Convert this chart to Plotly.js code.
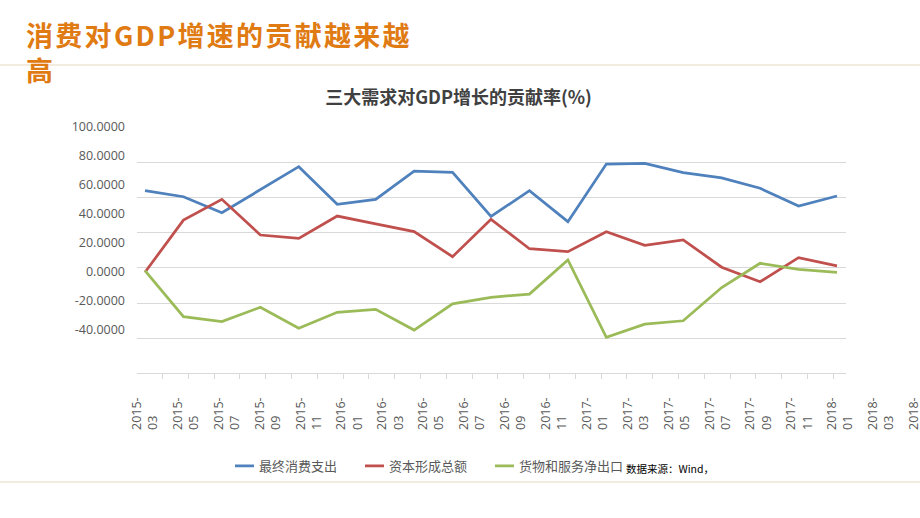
<!DOCTYPE html>
<html><head><meta charset="utf-8">
<script src="https://cdn.plot.ly/plotly-3.0.1.min.js"></script>
<style>
html,body{margin:0;padding:0;overflow:hidden;background:#fff;}
#chart{width:960px;height:518px;}
.annotation[data-index="0"] .annotation-text{letter-spacing:2.3px;}
.legendlines path{stroke-dasharray:0 11 20 100 !important;}
</style></head><body><div id="chart"></div>
<script>
const seriesNames = ['最终消费支出', '资本形成总额', '货物和服务净出口'];
const consumption = [64.0, 60.5, 51.4, 64.5, 77.6, 56.2, 59.0, 75.0, 74.4, 49.3, 63.9, 46.3, 79.1, 79.5, 74.2, 71.2, 65.3, 55.2, 60.9];
const capitalFormation = [17.5, 47.2, 59.0, 38.7, 36.8, 49.5, 45.0, 40.6, 26.4, 47.6, 30.9, 29.2, 40.6, 32.8, 35.9, 20.4, 12.1, 25.8, 21.1];
const netExports = [18.5, -7.8, -10.6, -2.4, -14.4, -5.3, -3.6, -15.4, -0.5, 3.2, 5.1, 24.5, -19.5, -12.0, -10.1, 8.8, 22.6, 19.2, 17.5];
const seriesColors = ['#4F81BD', '#C0504D', '#9BBB59'];
const xTickLabels = ['2015-03','2015-05','2015-07','2015-09','2015-11','2016-01','2016-03','2016-05','2016-07','2016-09','2016-11','2017-01','2017-03','2017-05','2017-07','2017-09','2017-11','2018-01','2018-03','2018-05'];
const yTickVals = [100, 80, 60, 40, 20, 0, -20, -40];
const yTickLabels = ['100.0000','80.0000','60.0000','40.0000','20.0000','0.0000','-20.0000','-40.0000'];

const W = 960, H = 518;
const px = v => v / W;
const py = v => 1 - v / H;
const cjk = '"Noto Sans CJK SC", "Noto Sans", sans-serif';
const tickFont = {family: '"Open Sans", "Noto Sans", sans-serif', size: 12.5, color: '#595959'};

const data = [consumption, capitalFormation, netExports].map((vals, i) => ({
  type: 'scatter', mode: 'lines', name: seriesNames[i], y: vals,
  xaxis: 'x', yaxis: 'y',
  line: {color: seriesColors[i], width: 2.75},
  legendwidth: i === 2 ? 110 : undefined,
  hoverinfo: 'skip'
}));
// carriers for the label-only axes (no visible marks)
const xLabelPos = xTickLabels.map((s, k) => k);
data.push({type: 'scatter', mode: 'markers', x: yTickVals.map(() => null), y: yTickVals,
           xaxis: 'x', yaxis: 'y2', marker: {opacity: 0}, showlegend: false, hoverinfo: 'skip'});
data.push({type: 'scatter', mode: 'markers', x: xLabelPos, y: xLabelPos.map(() => null),
           xaxis: 'x2', yaxis: 'y3', marker: {opacity: 0}, showlegend: false, hoverinfo: 'skip'});

const layout = {
  width: W, height: H,
  margin: {l: 0, r: 0, t: 0, b: 0, pad: 0},
  paper_bgcolor: '#ffffff', plot_bgcolor: 'rgba(0,0,0,0)',
  showlegend: true,
  title: {text: '三大需求对GDP增长的贡献率(%)', xref: 'paper', x: px(458.5), xanchor: 'center',
          yref: 'paper', y: py(97.5), yanchor: 'middle',
          font: {family: cjk, size: 18, color: '#404040', weight: 700}},
  xaxis: {type: 'linear', domain: [px(137), px(846)], range: [-0.208, 18.234], anchor: 'y',
          showgrid: false, zeroline: false, showline: true, linecolor: '#D9D9D9', linewidth: 1,
          ticks: 'outside', ticklen: 5, tickcolor: '#D9D9D9', tickwidth: 1,
          tickmode: 'linear', tick0: -0.216, dtick: 0.671, showticklabels: false, fixedrange: true},
  yaxis: {type: 'linear', domain: [py(373.3), py(127.3)], range: [-40, 100], anchor: 'x',
          tickmode: 'linear', tick0: 0, dtick: 20, showgrid: true, gridcolor: '#D9D9D9', gridwidth: 1,
          zeroline: false, showline: false, showticklabels: false, ticks: '', fixedrange: true},
  yaxis2: {type: 'linear', visible: true, domain: [py(329.3), py(127)], range: [-40, 100], anchor: 'x', side: 'left',
           tickmode: 'array', tickvals: yTickVals, ticktext: yTickLabels,
           showgrid: false, zeroline: false, showline: false, ticks: '', ticklabelstandoff: 11,
           tickfont: tickFont, fixedrange: true},
  xaxis2: {type: 'linear', visible: true, domain: [px(137), 1], range: [(137 - 145) / 40.9, (960 - 145) / 40.9],
           anchor: 'y3', side: 'top',
           tickmode: 'array', tickvals: xLabelPos,
           ticktext: xTickLabels.map(s => s.replace('-', '-<br>')),
           tickangle: -90, showgrid: false, zeroline: false, showline: false, ticks: '',
           tickfont: tickFont, fixedrange: true},
  yaxis3: {type: 'linear', domain: [0, py(431)], range: [0, 1], anchor: 'x2', visible: false, fixedrange: true},
  legend: {orientation: 'h', x: px(219), xanchor: 'left', y: py(466), yanchor: 'middle',
           font: {family: cjk, size: 13, color: '#595959'}, bgcolor: 'rgba(0,0,0,0)',
           itemwidth: 30, entrywidth: 85, traceorder: 'normal'},
  annotations: [
    {text: '消费对GDP增速的贡献越来越<br>高', xref: 'paper', yref: 'paper', x: px(24), y: py(52),
     xanchor: 'left', yanchor: 'middle', align: 'left', showarrow: false,
     font: {family: cjk, size: 27, color: '#E07A12', weight: 700}},
    {text: '数据来源：Wind，', xref: 'paper', yref: 'paper', x: px(624), y: py(468),
     xanchor: 'left', yanchor: 'middle', align: 'left', showarrow: false,
     font: {family: cjk, size: 10.5, color: '#000000'}}
  ],
  shapes: [
    {type: 'line', xref: 'paper', yref: 'paper', x0: 0, x1: 1, y0: py(65), y1: py(65),
     line: {color: '#E6D7C0', width: 1}, layer: 'below'},
    {type: 'line', xref: 'paper', yref: 'paper', x0: 0, x1: 1, y0: py(482), y1: py(482),
     line: {color: '#E6D7C0', width: 1}, layer: 'below'}
  ]
};

Plotly.newPlot('chart', data, layout, {displayModeBar: false, responsive: false, staticPlot: true});
</script></body></html>
